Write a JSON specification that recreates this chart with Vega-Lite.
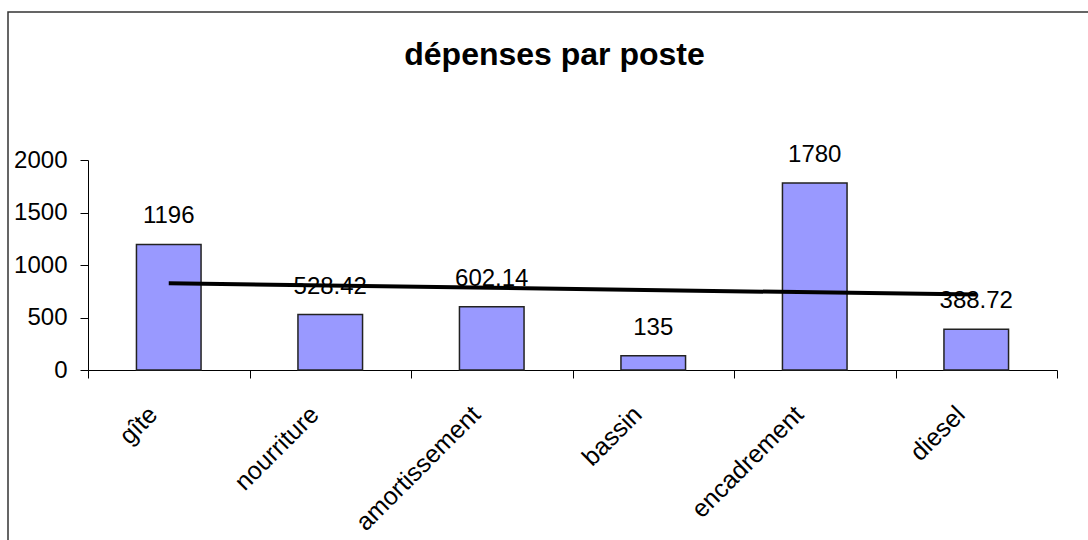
{
  "$schema": "https://vega.github.io/schema/vega-lite/v6.json",
  "width": 1081,
  "height": 529,
  "autosize": {"type": "none"},
  "padding": {"left": 8, "top": 12, "right": 0, "bottom": 0},
  "background": "white",
  "config": {
    "view": {"stroke": "#333333", "strokeWidth": 1.5},
    "font": "Liberation Sans",
    "axis": {"labelFont": "Liberation Sans", "labelFontSize": 24, "labelColor": "black", "domainColor": "black", "tickColor": "black", "grid": false, "title": null, "tickSize": 8}
  },
  "title": {"text": "dépenses par poste", "fontSize": 32, "fontWeight": "bold", "font": "Liberation Sans", "color": "black", "anchor": "middle", "offset": -60, "dx": 6},
  "data": {
    "values": [
      {"poste": "gîte", "montant": 1196},
      {"poste": "nourriture", "montant": 528.42},
      {"poste": "amortissement", "montant": 602.14},
      {"poste": "bassin", "montant": 135},
      {"poste": "encadrement", "montant": 1780},
      {"poste": "diesel", "montant": 388.72}
    ]
  },
  "layer": [
    {
      "mark": {"type": "bar", "fill": "#9999FF", "stroke": "#222222", "strokeWidth": 1.5, "width": {"band": 0.4}},
      "encoding": {
        "x": {"field": "poste", "type": "nominal", "sort": null,
          "scale": {"range": [80, 1049], "paddingInner": 0, "paddingOuter": 0},
          "axis": {"orient": "bottom", "offset": -171, "tickBand": "extent", "labelAngle": -45, "labelAlign": "right", "labelBaseline": "middle", "labelFontSize": 25, "labelPadding": 32, "labelOffset": -16}},
        "y": {"field": "montant", "type": "quantitative",
          "scale": {"domain": [0, 2000], "range": [358, 148], "nice": false, "zero": true},
          "axis": {"values": [0, 500, 1000, 1500, 2000], "format": "d", "offset": -80, "labelPadding": 13}}
      }
    },
    {
      "mark": {"type": "text", "fontSize": 24, "font": "Liberation Sans", "color": "black", "baseline": "alphabetic", "dy": -21},
      "encoding": {
        "x": {"field": "poste", "type": "nominal", "sort": null,
          "scale": {"range": [80, 1049], "paddingInner": 0, "paddingOuter": 0}, "axis": null},
        "y": {"field": "montant", "type": "quantitative"},
        "text": {"field": "montant", "type": "nominal"}
      }
    },
    {
      "transform": [
        {"window": [{"op": "row_number", "as": "rang"}]},
        {"regression": "montant", "on": "rang"}
      ],
      "mark": {"type": "line", "color": "black", "strokeWidth": 4},
      "encoding": {
        "x": {"field": "rang", "type": "quantitative", "scale": {"domain": [0.5, 6.5], "range": [80, 1049], "nice": false, "zero": false}, "axis": null},
        "y": {"field": "montant", "type": "quantitative"}
      }
    }
  ],
  "resolve": {"scale": {"x": "independent"}}
}
